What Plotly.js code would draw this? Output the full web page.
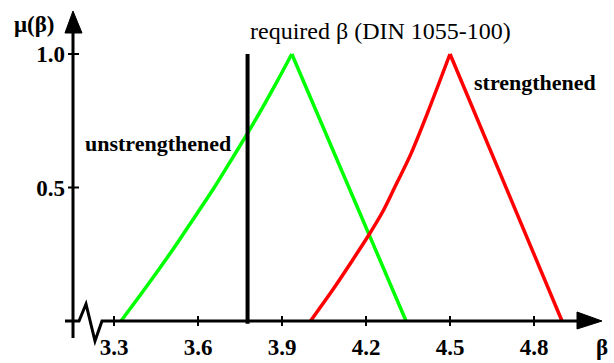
<!DOCTYPE html>
<html>
<head>
<meta charset="utf-8">
<script src="https://cdn.plot.ly/plotly-3.0.1.min.js"></script>
<style>html,body{margin:0;padding:0;background:#fff;}#chart{width:614px;height:363px;}</style>
</head>
<body>
<div id="chart"></div>
<script>
// ---- data ----
const unstrengthenedBeta = [3.325, 3.396, 3.465, 3.531, 3.595, 3.658, 3.717, 3.775, 3.831, 3.884, 3.935, 4.343];
const unstrengthenedMu   = [0.0, 0.1, 0.2, 0.3, 0.4, 0.5, 0.6, 0.7, 0.8, 0.9, 1.0, 0.0];
const strengthenedBeta = [4.002, 4.04, 4.08, 4.15, 4.21, 4.26, 4.30, 4.36, 4.42, 4.50, 4.90];
const strengthenedMu   = [0.0, 0.056, 0.115, 0.225, 0.322, 0.41, 0.495, 0.625, 0.78, 1.0, 0.0];
const requiredBeta = 3.777;
const requiredMu = [-0.01, 1.0];
const xTickVals = [3.3, 3.6, 3.9, 4.2, 4.5, 4.8];
const xTickText = ['3.3', '3.6', '3.9', '4.2', '4.5', '4.8'];
const yTickVals = [0, 0.5, 1.0];
const yTickText = ['', '0.5', '1.0'];

// ---- layout geometry (pixels) ----
const W = 614, H = 363;
const pxPerBeta = 280, beta0px = 114;   // 3.3 at x=114
const mu0py = 321, pxPerMu = 267;       // mu=0 at y=321
const xr = [3.3 - beta0px / pxPerBeta, 3.3 + (W - beta0px) / pxPerBeta];
const yr = [-(H - mu0py) / pxPerMu, mu0py / pxPerMu];
const axisXpx = 73;
const fx = px => px / W;          // paper x
const fy = py => 1 - py / H;      // paper y
const FONT = 'Liberation Serif, Times New Roman, serif';

// split each series at its peak: rising part drawn smooth, falling part straight
function split(xs, ys) {
  const k = ys.indexOf(Math.max(...ys));
  return [[xs.slice(0, k + 1), ys.slice(0, k + 1)], [xs.slice(k), ys.slice(k)]];
}
const [uRise, uFall] = split(unstrengthenedBeta, unstrengthenedMu);
const [sRise, sFall] = split(strengthenedBeta, strengthenedMu);
const GREEN = '#00ff00', RED = '#ff0000';
const lw = 3.5;

const traces = [
  {x: uRise[0], y: uRise[1], mode: 'lines', line: {color: GREEN, width: lw, shape: 'spline', smoothing: 0.8}, hoverinfo: 'skip'},
  {x: uFall[0], y: uFall[1], mode: 'lines', line: {color: GREEN, width: lw}, hoverinfo: 'skip'},
  {x: sRise[0], y: sRise[1], mode: 'lines', line: {color: RED, width: lw, shape: 'spline', smoothing: 0.8}, hoverinfo: 'skip'},
  {x: sFall[0], y: sFall[1], mode: 'lines', line: {color: RED, width: lw}, hoverinfo: 'skip'},
  {x: [requiredBeta, requiredBeta], y: requiredMu, mode: 'lines', line: {color: '#000', width: 4}, hoverinfo: 'skip'}
];

const shapes = [];
const pth = (pts) => 'M' + pts.map(p => fx(p[0]).toFixed(5) + ',' + fy(p[1]).toFixed(5)).join(' L');
// x axis line with break
shapes.push({type: 'path', xref: 'paper', yref: 'paper',
  path: pth([[65, 321], [79, 321], [86, 304], [95, 341], [102, 321], [580, 321]]),
  line: {color: '#000', width: 3}});
// x arrow
shapes.push({type: 'path', xref: 'paper', yref: 'paper',
  path: pth([[577, 312], [602, 321], [577, 329]]) + ' Z', fillcolor: '#000', line: {color: '#000', width: 1}});
// y axis line
shapes.push({type: 'line', xref: 'paper', yref: 'paper', x0: fx(axisXpx), x1: fx(axisXpx), y0: fy(338), y1: fy(30),
  line: {color: '#000', width: 3}});
// y arrow
shapes.push({type: 'path', xref: 'paper', yref: 'paper',
  path: pth([[65, 33], [73, 11], [82, 33]]) + ' Z', fillcolor: '#000', line: {color: '#000', width: 1}});
// x ticks (crossing the axis)
xTickVals.forEach(v => shapes.push({type: 'line', xref: 'x', yref: 'paper', x0: v, x1: v, y0: fy(316), y1: fy(326),
  line: {color: '#000', width: 2}}));
// y ticks (crossing the axis)
yTickVals.forEach(v => { if (v > 0) shapes.push({type: 'line', xref: 'paper', yref: 'y', x0: fx(68), x1: fx(79), y0: v, y1: v,
  line: {color: '#000', width: 2}}); });

const ann = (text, px, py, size, bold, xanchor) => ({
  text: text, xref: 'paper', yref: 'paper', x: fx(px), y: fy(py), xanchor: xanchor || 'center', yanchor: 'middle',
  showarrow: false, font: {family: FONT, size: size, color: '#000', weight: bold ? 'bold' : 'normal'}
});
const annotations = [
  ann('μ(β)', 34, 24, 23, true),
  ann('β', 602, 347, 23, true),
  ann('required β (DIN 1055-100)', 380, 31, 24, false),
  ann('unstrengthened', 83, 143, 22, true, 'left'),
  ann('strengthened', 472, 83, 22, true, 'left')
];

const layout = {
  width: W, height: H,
  margin: {l: 0, r: 0, t: 0, b: 0, pad: 0},
  paper_bgcolor: '#fff', plot_bgcolor: '#fff',
  showlegend: false,
  xaxis: {range: xr, anchor: 'free', position: 1 - mu0py / H, showgrid: false, zeroline: false, showline: false,
    tickmode: 'array', tickvals: xTickVals, ticktext: xTickText, ticks: '', ticklabelstandoff: 10,
    tickfont: {family: FONT, size: 23, color: '#000', weight: 'bold'}, fixedrange: true},
  yaxis: {range: yr, anchor: 'free', position: axisXpx / W, showgrid: false, zeroline: false, showline: false,
    tickmode: 'array', tickvals: yTickVals, ticktext: yTickText, ticks: '', ticklabelstandoff: 8,
    tickfont: {family: FONT, size: 23, color: '#000', weight: 'bold'}, fixedrange: true},
  shapes: shapes,
  annotations: annotations
};

Plotly.newPlot('chart', traces, layout, {staticPlot: true, displayModeBar: false});
</script>
</body>
</html>
